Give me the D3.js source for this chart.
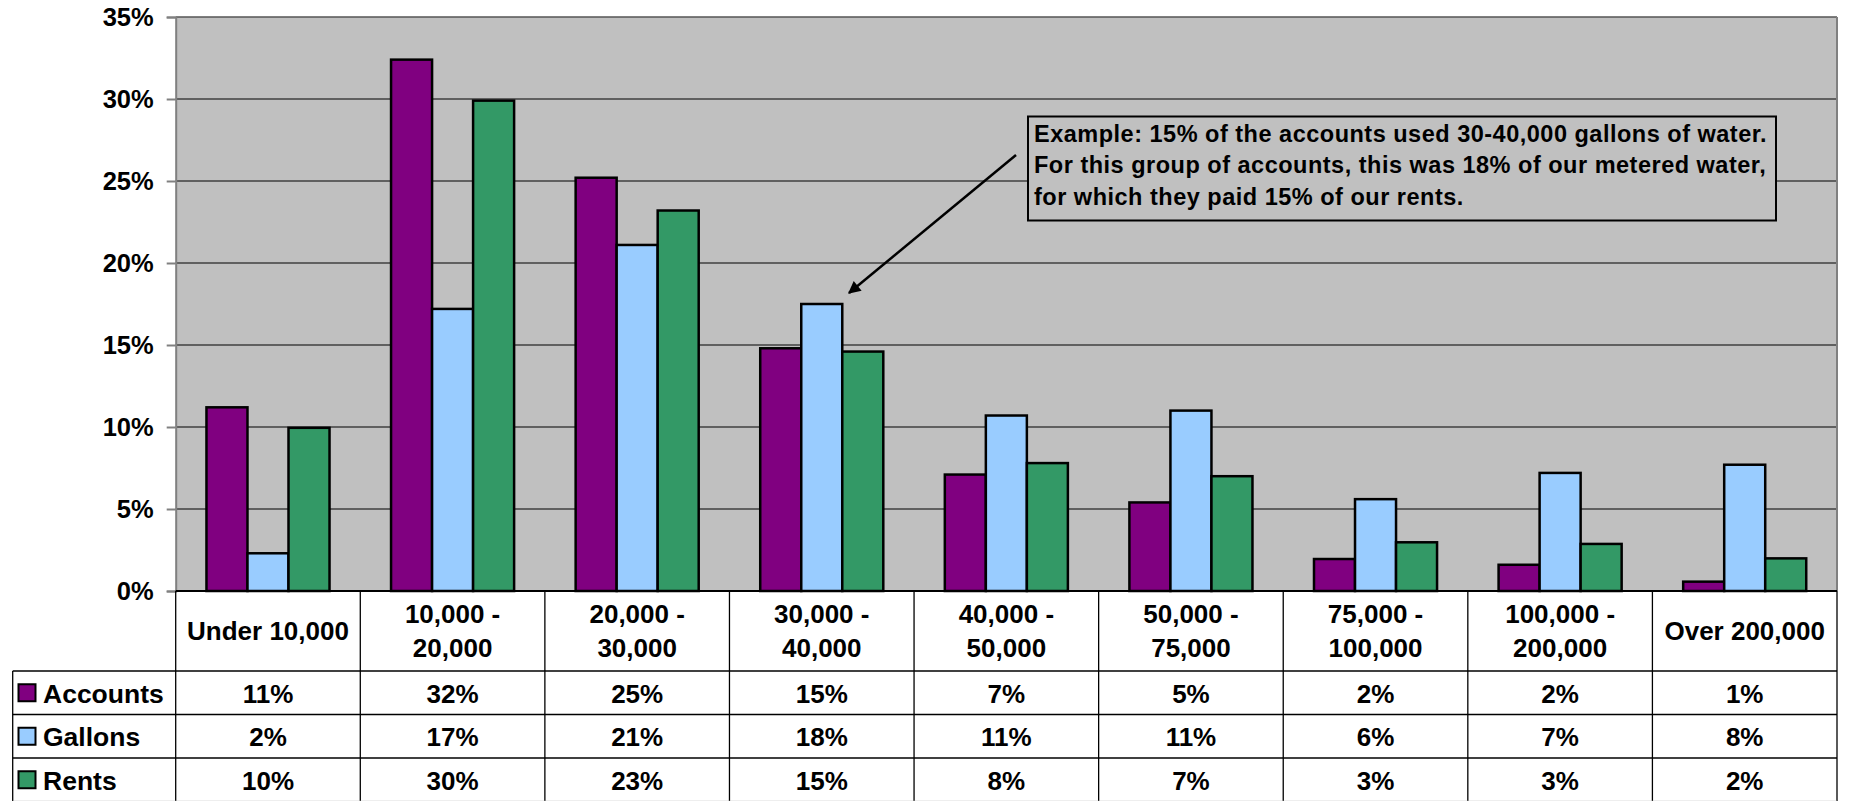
<!DOCTYPE html>
<html lang="en">
<head>
<meta charset="UTF-8">
<title>Water usage by account size</title>
<script src="https://d3js.org/d3.v7.min.js"></script>
<style>
    body { margin: 0; background: #fff; }
    svg { display: block; font-family: "Liberation Sans", Arial, sans-serif; font-weight: bold; }
</style>
</head>
<body>
<div id="chart"></div>
<script>
    // categories (gallons used per year), two-line labels for the table header
    var categories = ["Under 10,000", "10,000 - 20,000", "20,000 - 30,000", "30,000 - 40,000", "40,000 - 50,000",
        "50,000 - 75,000", "75,000 - 100,000", "100,000 - 200,000", "Over 200,000"];
    var categoryLines = [["Under 10,000"], ["10,000 -", "20,000"], ["20,000 -", "30,000"], ["30,000 -", "40,000"],
        ["40,000 -", "50,000"], ["50,000 -", "75,000"], ["75,000 -", "100,000"], ["100,000 -", "200,000"], ["Over 200,000"]];

    var seriesNames = ["Accounts", "Gallons", "Rents"];
    var seriesColors = ["#800080", "#99CCFF", "#339966"];

    // percent values
    var accounts = [11.2, 32.4, 25.2, 14.8, 7.1, 5.4, 1.95, 1.6, 0.57];
    var gallons = [2.3, 17.2, 21.1, 17.5, 10.7, 11.0, 5.6, 7.2, 7.7];
    var rents = [9.95, 29.9, 23.2, 14.6, 7.8, 7.0, 2.97, 2.87, 1.99];
    var seriesValues = [accounts, gallons, rents];

    var yTicks = [0, 5, 10, 15, 20, 25, 30, 35];

    var noteLines = ["Example: 15% of the accounts used 30-40,000 gallons of water.",
        "For this group of accounts, this was 18% of our metered water,",
        "for which they paid 15% of our rents."];

    var width = 1849, height = 801;
    var plotLeft = 175.7, plotRight = 1837, plotTop = 17, plotBottom = 591;
    var headerBottom = 671, rowH = 43.5, legendLeft = 12.7;

    var svg = d3.select("#chart").append("svg")
        .attr("width", width)
        .attr("height", height);

    var y = d3.scaleLinear().domain([0, 35]).range([plotBottom, plotTop]);

    var x0 = d3.scaleBand().domain(categories).range([plotLeft, plotRight])
        .paddingInner(1 / 3).paddingOuter(1 / 6);
    var x1 = d3.scaleBand().domain(seriesNames).range([0, x0.bandwidth()]);
    var cols = d3.scaleBand().domain(categories).range([plotLeft, plotRight]);

    // plot background
    svg.append("rect")
        .attr("x", plotLeft).attr("y", plotTop)
        .attr("width", plotRight - plotLeft).attr("height", plotBottom - plotTop)
        .attr("fill", "#C0C0C0");

    // gridlines
    svg.append("g").selectAll("line")
        .data(yTicks.filter(d => d > 0))
        .enter().append("line")
        .attr("x1", plotLeft).attr("x2", plotRight)
        .attr("y1", d => y(d)).attr("y2", d => y(d))
        .attr("stroke", "#000").attr("stroke-width", 1.2);

    // y axis
    var yAxis = d3.axisLeft(y).tickValues(yTicks).tickFormat(d => d + "%").tickSize(9).tickPadding(13);
    var yg = svg.append("g").attr("transform", "translate(" + plotLeft + ",0)").call(yAxis);
    yg.select(".domain").attr("stroke", "#808080").attr("stroke-width", 2);
    yg.selectAll(".tick line").attr("stroke", "#808080").attr("stroke-width", 2);
    yg.selectAll(".tick text")
        .attr("font-size", 25.5).attr("font-weight", "bold").attr("fill", "#000")
        .attr("font-family", "'Liberation Sans', Arial, sans-serif");

    // right and top plot border
    svg.append("line")
        .attr("x1", plotRight).attr("x2", plotRight).attr("y1", plotTop).attr("y2", plotBottom)
        .attr("stroke", "#808080").attr("stroke-width", 2);
    svg.append("line")
        .attr("x1", plotLeft).attr("x2", plotRight).attr("y1", plotTop).attr("y2", plotTop)
        .attr("stroke", "#808080").attr("stroke-width", 1);

    // bars
    var groups = svg.append("g").selectAll("g")
        .data(categories)
        .enter().append("g")
        .attr("transform", d => "translate(" + x0(d) + ",0)");

    groups.selectAll("rect")
        .data((d, i) => seriesNames.map((s, j) => ({ s: s, j: j, v: seriesValues[j][i] })))
        .enter().append("rect")
        .attr("x", d => x1(d.s))
        .attr("y", d => y(d.v))
        .attr("width", x1.bandwidth())
        .attr("height", d => y(0) - y(d.v))
        .attr("fill", d => seriesColors[d.j])
        .attr("stroke", "#000")
        .attr("stroke-width", 2.5);

    // category axis line
    svg.append("line")
        .attr("x1", plotLeft).attr("x2", plotRight).attr("y1", plotBottom).attr("y2", plotBottom)
        .attr("stroke", "#000").attr("stroke-width", 2);

    // data table
    var table = svg.append("g");
    var tableBottom = height;

    // vertical separators
    table.selectAll("line.v")
        .data(categories.concat(["end"]))
        .enter().append("line")
        .attr("class", "v")
        .attr("x1", (d, i) => i < categories.length ? cols(d) : plotRight)
        .attr("x2", (d, i) => i < categories.length ? cols(d) : plotRight)
        .attr("y1", plotBottom).attr("y2", tableBottom)
        .attr("stroke", "#000").attr("stroke-width", 1.3);

    // legend column left edge
    table.append("line")
        .attr("x1", legendLeft).attr("x2", legendLeft)
        .attr("y1", headerBottom).attr("y2", tableBottom)
        .attr("stroke", "#000").attr("stroke-width", 1.3);

    // horizontal row lines
    table.selectAll("line.h")
        .data([0, 1, 2, 3])
        .enter().append("line")
        .attr("class", "h")
        .attr("x1", legendLeft).attr("x2", plotRight)
        .attr("y1", d => headerBottom + d * rowH).attr("y2", d => headerBottom + d * rowH)
        .attr("stroke", d => d === 3 ? "#bbb" : "#000").attr("stroke-width", 1.3);

    // header labels
    var hdr = table.selectAll("text.hdr")
        .data(categoryLines)
        .enter().append("text")
        .attr("class", "hdr")
        .attr("text-anchor", "middle")
        .attr("font-size", 26)
        .attr("fill", "#000");
    hdr.each(function (lines, i) {
        var cx = cols(categories[i]) + cols.bandwidth() / 2;
        var cy = (plotBottom + headerBottom) / 2;
        var start = cy - (lines.length - 1) * 17 + 9;
        d3.select(this).selectAll("tspan")
            .data(lines)
            .enter().append("tspan")
            .attr("x", cx)
            .attr("y", (d, k) => start + k * 34)
            .text(d => d);
    });

    // value rows + legend keys
    seriesNames.forEach(function (name, j) {
        var cy = headerBottom + j * rowH + rowH / 2;
        table.selectAll("text.r" + j)
            .data(seriesValues[j])
            .enter().append("text")
            .attr("class", "r" + j)
            .attr("x", (d, i) => cols(categories[i]) + cols.bandwidth() / 2)
            .attr("y", cy + 10)
            .attr("text-anchor", "middle")
            .attr("font-size", 26)
            .text(d => Math.round(d) + "%");

        table.append("rect")
            .attr("x", 18.5).attr("y", cy - 8.5)
            .attr("width", 17).attr("height", 17)
            .attr("fill", seriesColors[j])
            .attr("stroke", "#000").attr("stroke-width", 2);

        table.append("text")
            .attr("x", 43).attr("y", cy + 10)
            .attr("font-size", 26.5)
            .text(name);
    });

    // annotation
    var note = svg.append("g");
    note.append("rect")
        .attr("x", 1028).attr("y", 116.5)
        .attr("width", 1776 - 1028).attr("height", 104)
        .attr("fill", "#C0C0C0")
        .attr("stroke", "#000").attr("stroke-width", 2);
    note.selectAll("text")
        .data(noteLines)
        .enter().append("text")
        .attr("x", 1034)
        .attr("y", (d, i) => 141.5 + i * 31.7)
        .attr("font-size", 23.5)
        .attr("letter-spacing", 0.5)
        .text(d => d);

    svg.append("defs").append("marker")
        .attr("id", "arrow")
        .attr("viewBox", "0 0 10 10")
        .attr("refX", 9).attr("refY", 5)
        .attr("markerWidth", 7).attr("markerHeight", 5)
        .attr("markerUnits", "strokeWidth")
        .attr("orient", "auto")
        .append("path")
        .attr("d", "M0,0 L10,5 L0,10 z")
        .attr("fill", "#000");

    svg.append("line")
        .attr("x1", 1016).attr("y1", 155)
        .attr("x2", 849).attr("y2", 293)
        .attr("stroke", "#000").attr("stroke-width", 2.5)
        .attr("marker-end", "url(#arrow)");
</script>
</body>
</html>
